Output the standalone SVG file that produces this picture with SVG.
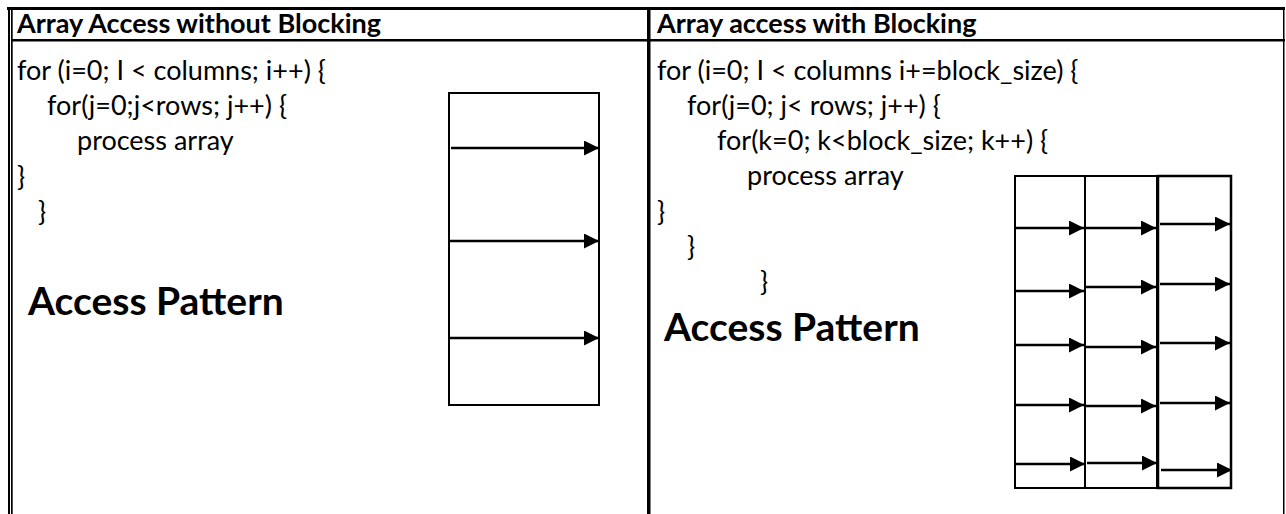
<svg xmlns="http://www.w3.org/2000/svg" width="1286" height="514" viewBox="0 0 1286 514">
  <style>
    .rule { fill: #000; }
    .hd { font-family: Lato, "Open Sans", sans-serif; font-weight: 700; font-size: 27px; fill: #000; }
    .code { font-family: Lato, "Open Sans", sans-serif; font-size: 27px; fill: #000; }
    .big { font-family: Lato, "Open Sans", sans-serif; font-weight: 700; font-size: 39px; fill: #000; }
    .frame { fill: none; stroke: #000; stroke-width: 2; }
    .arrow { stroke: #000; stroke-width: 2.5; fill: none; marker-end: url(#head); }
  </style>
  <defs>
    <marker id="head" markerUnits="userSpaceOnUse" viewBox="0 0 15 15" refX="15" refY="7.5" markerWidth="15" markerHeight="15" orient="auto">
      <path d="M0,0 L15,7.5 L0,15 z" fill="#000"/>
    </marker>
  </defs>
  <rect width="1286" height="514" fill="#fff"/>

  <!-- table rules -->
  <g id="table">
    <rect class="rule" x="7" y="7" width="1278" height="3"/>
    <rect class="rule" x="8" y="7" width="2" height="507"/>
    <rect class="rule" x="11" y="7" width="1.7" height="507"/>
    <rect class="rule" x="11" y="39" width="1274" height="2.5"/>
    <rect class="rule" x="647" y="7" width="3.5" height="507"/>
    <rect class="rule" x="1283" y="7" width="1.5" height="507"/>
  </g>

  <!-- left column: loop without blocking -->
  <g id="cell-plain">
    <text class="hd" x="17" y="33">Array Access without Blocking</text>
    <text class="code" x="17" y="80">for (i=0; I &lt; columns; i++) {</text>
    <text class="code" x="47" y="115">for(j=0;j&lt;rows; j++) {</text>
    <text class="code" x="77" y="150">process array</text>
    <text class="code" x="17" y="186">}</text>
    <text class="code" x="38" y="221">}</text>
    <text class="big" x="28" y="315">Access Pattern</text>
  </g>

  <!-- right column: loop with blocking -->
  <g id="cell-blocked">
    <text class="hd" x="657" y="33">Array access with Blocking</text>
    <text class="code" x="657" y="80">for (i=0; I &lt; columns i+=block_size) {</text>
    <text class="code" x="687" y="115">for(j=0; j&lt; rows; j++) {</text>
    <text class="code" x="717" y="150">for(k=0; k&lt;block_size; k++) {</text>
    <text class="code" x="747" y="185">process array</text>
    <text class="code" x="657" y="221">}</text>
    <text class="code" x="687" y="256">}</text>
    <text class="code" x="760" y="291">}</text>
    <text class="big" x="664" y="341">Access Pattern</text>
  </g>

  <!-- array drawn as one long row -->
  <g id="array-plain">
    <rect class="frame" x="449" y="93" width="150" height="312"/>
  </g>

  <!-- array split into three column blocks -->
  <g id="array-blocked">
    <rect class="frame" x="1015" y="176" width="70" height="312"/>
    <rect class="frame" x="1085" y="176" width="72" height="312"/>
    <rect class="frame" x="1158" y="176" width="73" height="312" style="stroke-width:2.5"/>
  </g>

  <!-- traversal arrows -->
  <g id="connectors">
    <line class="arrow" x1="451" y1="148" x2="599" y2="148"/>
    <line class="arrow" x1="449" y1="241" x2="599" y2="241"/>
    <line class="arrow" x1="449" y1="338" x2="599" y2="338"/>

    <line class="arrow" x1="1015" y1="228" x2="1084" y2="228"/>
    <line class="arrow" x1="1015" y1="291" x2="1084" y2="291"/>
    <line class="arrow" x1="1015" y1="345" x2="1084" y2="345"/>
    <line class="arrow" x1="1015" y1="405" x2="1084" y2="405"/>
    <line class="arrow" x1="1016" y1="464" x2="1085" y2="464"/>

    <line class="arrow" x1="1086" y1="228" x2="1156" y2="228"/>
    <line class="arrow" x1="1086" y1="287" x2="1156" y2="287"/>
    <line class="arrow" x1="1086" y1="347" x2="1156" y2="347"/>
    <line class="arrow" x1="1086" y1="406" x2="1156" y2="406"/>
    <line class="arrow" x1="1087" y1="463" x2="1157" y2="463"/>

    <line class="arrow" x1="1160" y1="224" x2="1230" y2="224"/>
    <line class="arrow" x1="1160" y1="284" x2="1230" y2="284"/>
    <line class="arrow" x1="1160" y1="343" x2="1230" y2="343"/>
    <line class="arrow" x1="1160" y1="403" x2="1230" y2="403"/>
    <line class="arrow" x1="1161" y1="470" x2="1232" y2="470"/>
  </g>
</svg>
